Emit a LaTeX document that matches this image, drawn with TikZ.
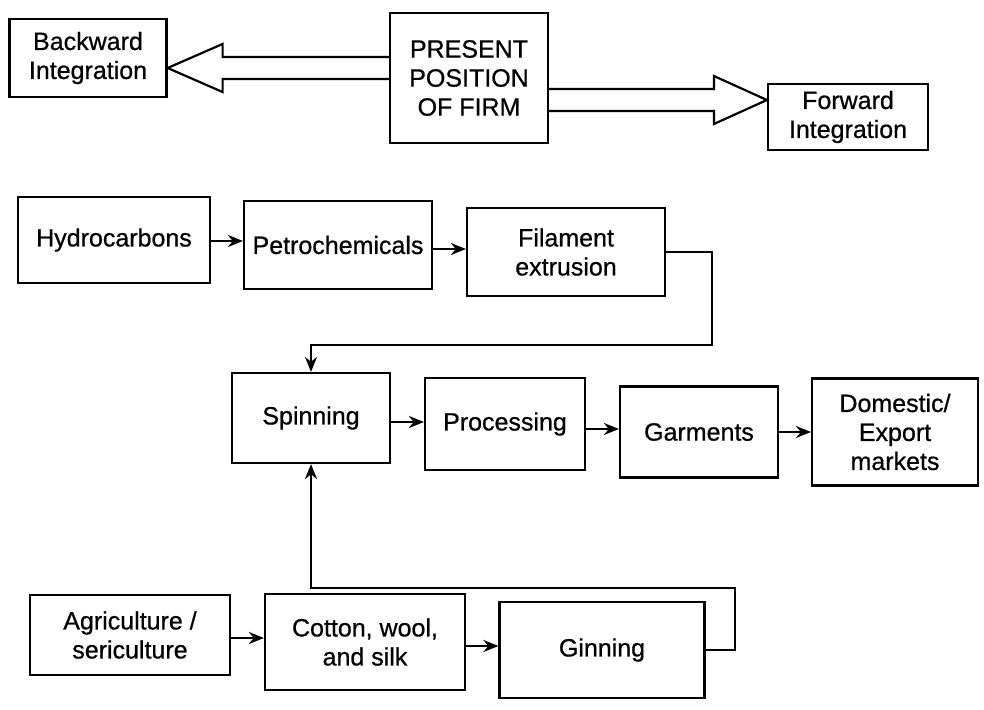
\documentclass[tikz,border=0pt]{standalone}
\usepackage{fontspec}
\setmainfont{Liberation Sans}
\newfontfamily\boxfont[FakeBold=0.7]{Liberation Sans}
\usetikzlibrary{arrows.meta,calc}
\begin{document}
\begin{tikzpicture}[x=1pt,y=-1pt,
  box/.style={draw=black,line width=2.2pt,fill=white,align=center,inner sep=2pt,
    font=\boxfont\fontsize{25}{29}\selectfont},
  conn/.style={draw=black,line width=2.2pt},
  arr/.style={conn,-{Stealth[length=15pt,width=12pt]}},
  bigarrow/.style={draw=black,line width=2.2pt,line join=miter}]
\useasboundingbox[fill=white] (0,0) rectangle (984,709);
% top row
\node[box,minimum width=157pt,minimum height=78pt] (back) at (88,58) {Backward\\Integration};
\node[box,minimum width=158pt,minimum height=130pt] (present) at (469,78) {PRESENT\\POSITION\\OF FIRM};
\node[box,minimum width=160pt,minimum height=66pt] (fwd) at (848,117) {Forward\\Integration};
% fat arrows
\coordinate (ls) at ([yshift=10pt]present.west);
\coordinate (lt) at (back.east |- ls);
\draw[bigarrow] ($(ls)+(0,-11)$) -- ($(lt)+(55,-11)$) -- ($(lt)+(55,-24)$) -- (lt)
  -- ($(lt)+(55,24)$) -- ($(lt)+(55,11)$) -- ($(ls)+(0,11)$);
\coordinate (rs) at ([yshift=-22pt]present.east);
\coordinate (rt) at (fwd.west |- rs);
\draw[bigarrow] ($(rs)+(0,-11)$) -- ($(rt)+(-53,-11)$) -- ($(rt)+(-53,-24)$) -- (rt)
  -- ($(rt)+(-53,24)$) -- ($(rt)+(-53,11)$) -- ($(rs)+(0,11)$);
% second row
\node[box,minimum width=192pt,minimum height=86pt] (hydro) at (114,240) {Hydrocarbons};
\node[box,minimum width=188pt,minimum height=88pt] (petro) at (338,245) {Petrochemicals};
\node[box,minimum width=198pt,minimum height=88pt] (fil) at (566,252) {Filament\\extrusion};
\draw[arr] (hydro.east |- petro.west) ++(0,-4) coordinate (h1) -- (h1 -| petro.west);
\draw[arr] (petro.east) ++(0,4) coordinate (p1) -- (p1 -| fil.west);
% third row
\node[box,minimum width=158pt,minimum height=90pt] (spin) at (311,418) {Spinning};
\node[box,minimum width=160pt,minimum height=92pt] (proc) at (505,424) {Processing};
\node[box,minimum width=158pt,minimum height=91pt] (garm) at (699,432) {Garments};
\node[box,minimum width=166pt,minimum height=107pt] (dom) at (895,432) {Domestic/\\Export\\markets};
\draw[arr] (spin.east) ++(0,4) coordinate (s1) -- (s1 -| proc.west);
\draw[arr] (proc.east) ++(0,5) coordinate (q1) -- (q1 -| garm.west);
\draw[arr] (garm.east) ++(0,0) coordinate (g1) -- (g1 -| dom.west);
% loop from filament
\coordinate (fr) at (712,252);
\coordinate (fb) at (712,345);
\draw[arr] (fil.east) -- (fr) -- (fb) -- (fb -| spin.north) -- (spin.north);
% bottom row
\node[box,minimum width=200pt,minimum height=80pt] (agri) at (130,635) {Agriculture /\\sericulture};
\node[box,minimum width=200pt,minimum height=96pt] (cotton) at (365,642) {Cotton, wool,\\and silk};
\node[box,minimum width=205pt,minimum height=96pt] (gin) at (602,650) {Ginning};
\draw[arr] (agri.east) ++(0,3) coordinate (a1) -- (a1 -| cotton.west);
\draw[arr] (cotton.east) ++(0,4) coordinate (c1) -- (c1 -| gin.west);
% loop from ginning
\coordinate (gr) at (735,650);
\coordinate (gt) at (735,588);
\draw[arr] (gin.east) -- (gr) -- (gt) -- (gt -| spin.south) -- (spin.south);
\end{tikzpicture}
\end{document}
